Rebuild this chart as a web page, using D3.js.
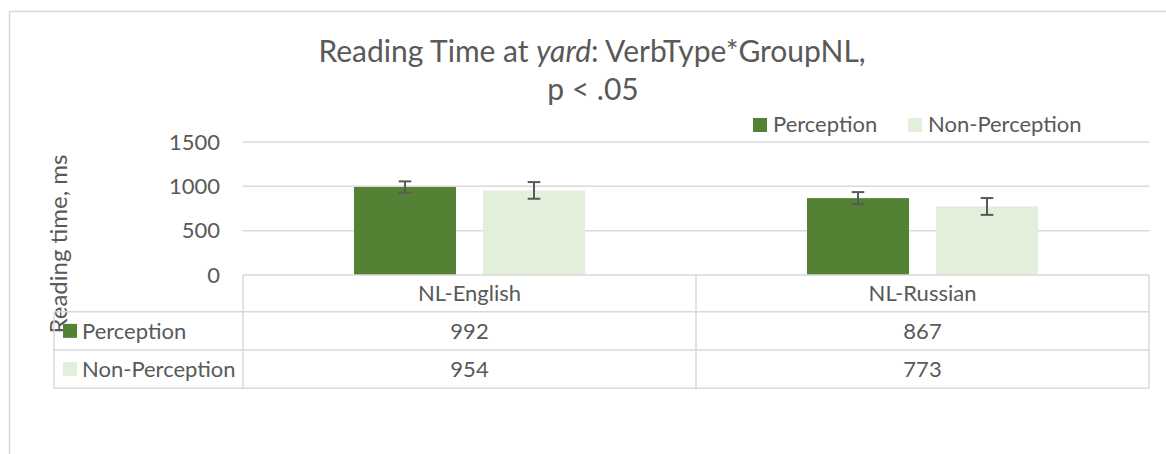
<!DOCTYPE html>
<html>
<head>
<meta charset="utf-8">
<script src="https://cdn.jsdelivr.net/npm/d3@7/dist/d3.min.js"></script>
<style>
  html, body { margin: 0; padding: 0; background: #fff; }
  svg { display: block; }
  text { font-family: Lato, "Open Sans", sans-serif; fill: #595959; }
</style>
</head>
<body>
<svg id="chart" width="1166" height="454"></svg>
<script>
// Group means (ms) and standard errors per verb type
const groups = ["NL-English", "NL-Russian"];
const seriesNames = ["Perception", "Non-Perception"];
const perception = [992, 867];
const nonPerception = [954, 773];
const perceptionErr = [64, 68];
const nonPerceptionErr = [94, 95];
const yTicks = [0, 500, 1000, 1500];

const colors = { "Perception": "#548235", "Non-Perception": "#E2EFDA" };
const gridColor = "#d9d9d9";
const inkColor = "#595959";
const labelSize = "22px";

const series = [
  { name: seriesNames[0], values: perception, errors: perceptionErr },
  { name: seriesNames[1], values: nonPerception, errors: nonPerceptionErr }
];

const svg = d3.select("#chart");

// Chart frame (top/left edges show)
svg.append("rect")
  .attr("x", 9.5).attr("y", 11.5)
  .attr("width", 1200).attr("height", 500)
  .attr("fill", "none").attr("stroke", gridColor).attr("stroke-width", 1.5);

const plotLeft = 243, plotRight = 1149;
const y = d3.scaleLinear().domain([0, 1500]).range([275, 142]);
const x0 = d3.scaleBand().domain(groups).range([plotLeft, plotRight]);
const x1 = d3.scaleBand().domain(seriesNames)
  .range([0, x0.bandwidth()])
  .paddingInner(27 / 129).paddingOuter(111 / 129);

// Title
const title = svg.append("text")
  .attr("x", 592).attr("y", 62)
  .attr("text-anchor", "middle")
  .style("font-size", "30px");
title.append("tspan").text("Reading Time at ");
title.append("tspan").style("font-style", "italic").text("yard");
title.append("tspan").text(": VerbType*GroupNL,");
svg.append("text")
  .attr("x", 593).attr("y", 100)
  .attr("text-anchor", "middle")
  .style("font-size", "30px")
  .text("p < .05");

// Legend
const legend = svg.append("g").selectAll("g")
  .data(seriesNames).join("g")
  .attr("transform", (d, i) => `translate(${i === 0 ? 753 : 908},118)`);
legend.append("rect")
  .attr("width", 14).attr("height", 14)
  .attr("fill", d => colors[d]);
legend.append("text")
  .attr("x", 20).attr("y", 14)
  .style("font-size", labelSize)
  .text(d => d);

// Gridlines
svg.append("g").selectAll("line")
  .data(yTicks.filter(t => t > 0)).join("line")
  .attr("x1", plotLeft).attr("x2", plotRight)
  .attr("y1", d => y(d)).attr("y2", d => y(d))
  .attr("stroke", gridColor).attr("stroke-width", 1.5);

// Y axis labels
const yAxis = d3.axisLeft(y).tickValues(yTicks).tickFormat(d3.format("d"))
  .tickSize(0).tickPadding(0);
const yg = svg.append("g").attr("transform", "translate(220,0)").call(yAxis);
yg.select(".domain").remove();
yg.selectAll("text")
  .attr("fill", inkColor)
  .style("font-family", "Lato, 'Open Sans', sans-serif")
  .style("font-size", labelSize);

// Y axis title
svg.append("text")
  .attr("transform", "translate(67,244) rotate(-90)")
  .attr("text-anchor", "middle")
  .style("font-size", "24px")
  .text("Reading time, ms");

// Bars
const barGroups = svg.append("g").selectAll("g")
  .data(series).join("g");
barGroups.selectAll("rect")
  .data(s => s.values.map((v, i) => ({ name: s.name, group: groups[i], value: v })))
  .join("rect")
  .attr("x", d => x0(d.group) + x1(d.name))
  .attr("width", x1.bandwidth())
  .attr("y", d => y(d.value))
  .attr("height", d => y(0) - y(d.value))
  .attr("fill", d => colors[d.name]);

// Error bars
const errData = series.flatMap(s => s.values.map((v, i) => ({
  cx: x0(groups[i]) + x1(s.name) + x1.bandwidth() / 2,
  hi: v + s.errors[i], lo: v - s.errors[i]
})));
const eb = svg.append("g").attr("stroke", inkColor).attr("stroke-width", 2);
eb.selectAll(".v").data(errData).join("line")
  .attr("x1", d => d.cx).attr("x2", d => d.cx)
  .attr("y1", d => y(d.hi)).attr("y2", d => y(d.lo));
eb.selectAll(".t").data(errData).join("line")
  .attr("x1", d => d.cx - 6.3).attr("x2", d => d.cx + 6.3)
  .attr("y1", d => y(d.hi)).attr("y2", d => y(d.hi));
eb.selectAll(".b").data(errData).join("line")
  .attr("x1", d => d.cx - 6.3).attr("x2", d => d.cx + 6.3)
  .attr("y1", d => y(d.lo)).attr("y2", d => y(d.lo));

// Data table
const rowTops = [275, 311.7, 350, 388.3];
const tableLeft = 54;
const t = svg.append("g").attr("stroke", gridColor).attr("stroke-width", 1.5);
// horizontal rules
t.append("line").attr("x1", plotLeft).attr("x2", plotRight).attr("y1", rowTops[0]).attr("y2", rowTops[0]);
[1, 2, 3].forEach(k => {
  t.append("line").attr("x1", tableLeft).attr("x2", plotRight)
    .attr("y1", rowTops[k]).attr("y2", rowTops[k]);
});
// vertical rules
t.append("line").attr("x1", tableLeft).attr("x2", tableLeft).attr("y1", rowTops[1]).attr("y2", rowTops[3]);
[plotLeft, x0(groups[1]), plotRight].forEach(xv => {
  t.append("line").attr("x1", xv).attr("x2", xv).attr("y1", rowTops[0]).attr("y2", rowTops[3]);
});

// header row: category names
svg.append("g").selectAll("text")
  .data(groups).join("text")
  .attr("x", d => x0(d) + x0.bandwidth() / 2)
  .attr("y", (rowTops[0] + rowTops[1]) / 2 + 8)
  .attr("text-anchor", "middle")
  .style("font-size", labelSize)
  .text(d => d);

// value rows
series.forEach((s, r) => {
  const cy = (rowTops[r + 1] + rowTops[r + 2]) / 2;
  svg.append("rect")
    .attr("x", 63).attr("y", cy - 7)
    .attr("width", 14).attr("height", 14)
    .attr("fill", colors[s.name]);
  svg.append("text")
    .attr("x", 82).attr("y", cy + 8)
    .style("font-size", labelSize)
    .text(s.name);
  svg.append("g").selectAll("text")
    .data(s.values).join("text")
    .attr("x", (d, i) => x0(groups[i]) + x0.bandwidth() / 2)
    .attr("y", cy + 8)
    .attr("text-anchor", "middle")
    .style("font-size", labelSize)
    .text(d => d);
});
</script>
</body>
</html>
